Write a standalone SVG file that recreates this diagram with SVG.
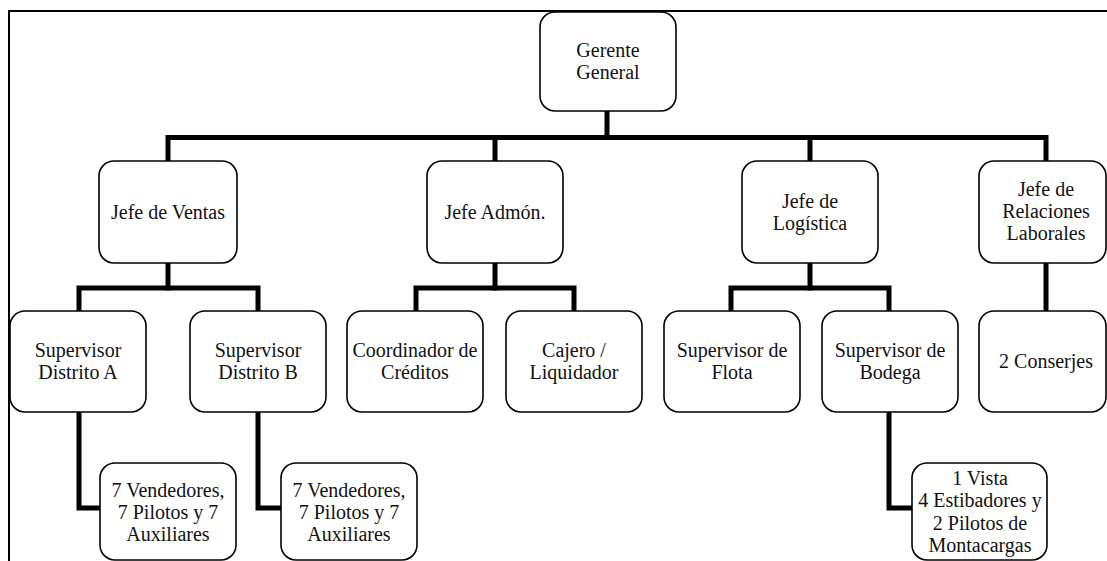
<svg xmlns="http://www.w3.org/2000/svg" width="1107" height="561" viewBox="0 0 1107 561">
<style>
.box{fill:#fff;stroke:#000;stroke-width:1.6}
.t{font-family:'Liberation Serif','Tinos','Times New Roman','DejaVu Serif',serif;font-size:20px;fill:#111;text-anchor:middle}
.c{fill:none;stroke:#000;stroke-width:5;stroke-linejoin:miter;stroke-linecap:square}
.frame{fill:none;stroke:#000;stroke-width:2}
</style>
<rect width="1107" height="561" fill="#fff"/>
<path class="frame" d="M9 561 V11 H1107"/>
<g id="connectors">
<path class="c" d="M607 111 V137.5"/>
<path class="c" d="M168 161 V137.5 H1046 V161"/>
<path class="c" d="M495 137.5 V161"/>
<path class="c" d="M810 137.5 V161"/>
<path class="c" d="M168 263 V288"/>
<path class="c" d="M79 311 V288 H258 V311"/>
<path class="c" d="M495 263 V288"/>
<path class="c" d="M416 311 V288 H574 V311"/>
<path class="c" d="M810 263 V288"/>
<path class="c" d="M731 311 V288 H889 V311"/>
<path class="c" d="M1046 263 V311"/>
<path class="c" d="M79 412 V508 H100"/>
<path class="c" d="M258 412 V508 H281"/>
<path class="c" d="M889 412 V508 H912"/>
</g>
<g font-family="Liberation Serif, serif">
<g id="n-gerente"><rect class="box" x="540" y="12" width="136" height="99" rx="15"/><text class="t" x="608" y="57">Gerente</text><text class="t" x="608" y="79">General</text></g>
<g id="n-ventas"><rect class="box" x="99" y="161" width="138" height="102" rx="15"/><text class="t" x="168" y="219">Jefe de Ventas</text></g>
<g id="n-admon"><rect class="box" x="427" y="161" width="136" height="102" rx="15"/><text class="t" x="495" y="219">Jefe Admón.</text></g>
<g id="n-logistica"><rect class="box" x="742" y="161" width="136" height="102" rx="15"/><text class="t" x="810" y="208">Jefe de</text><text class="t" x="810" y="230">Logística</text></g>
<g id="n-relaciones"><rect class="box" x="979" y="161" width="127" height="102" rx="15"/><text class="t" x="1046" y="196">Jefe de</text><text class="t" x="1046" y="218">Relaciones</text><text class="t" x="1046" y="240">Laborales</text></g>
<g id="n-supA"><rect class="box" x="10" y="311" width="136" height="101" rx="15"/><text class="t" x="78" y="357">Supervisor</text><text class="t" x="78" y="379">Distrito A</text></g>
<g id="n-supB"><rect class="box" x="190" y="311" width="136" height="101" rx="15"/><text class="t" x="258" y="357">Supervisor</text><text class="t" x="258" y="379">Distrito B</text></g>
<g id="n-coord"><rect class="box" x="347" y="311" width="136" height="101" rx="15"/><text class="t" x="415" y="357">Coordinador de</text><text class="t" x="415" y="379">Créditos</text></g>
<g id="n-cajero"><rect class="box" x="506" y="311" width="136" height="101" rx="15"/><text class="t" x="574" y="357">Cajero /</text><text class="t" x="574" y="379">Liquidador</text></g>
<g id="n-flota"><rect class="box" x="664" y="311" width="136" height="101" rx="15"/><text class="t" x="732" y="357">Supervisor de</text><text class="t" x="732" y="379">Flota</text></g>
<g id="n-bodega"><rect class="box" x="822" y="311" width="136" height="101" rx="15"/><text class="t" x="890" y="357">Supervisor de</text><text class="t" x="890" y="379">Bodega</text></g>
<g id="n-conserjes"><rect class="box" x="979" y="311" width="127" height="101" rx="15"/><text class="t" x="1046" y="368">2 Conserjes</text></g>
<g id="n-vendA"><rect class="box" x="100" y="463" width="136" height="97" rx="15"/><text class="t" x="168" y="497">7 Vendedores,</text><text class="t" x="168" y="519">7 Pilotos y 7</text><text class="t" x="168" y="541">Auxiliares</text></g>
<g id="n-vendB"><rect class="box" x="281" y="463" width="136" height="97" rx="15"/><text class="t" x="349" y="497">7 Vendedores,</text><text class="t" x="349" y="519">7 Pilotos y 7</text><text class="t" x="349" y="541">Auxiliares</text></g>
<g id="n-vista"><rect class="box" x="912" y="463" width="135" height="97" rx="15"/><text class="t" x="980" y="485">1 Vista</text><text class="t" x="980" y="507">4 Estibadores y</text><text class="t" x="980" y="530">2 Pilotos de</text><text class="t" x="980" y="552">Montacargas</text></g>
</g>
</svg>
